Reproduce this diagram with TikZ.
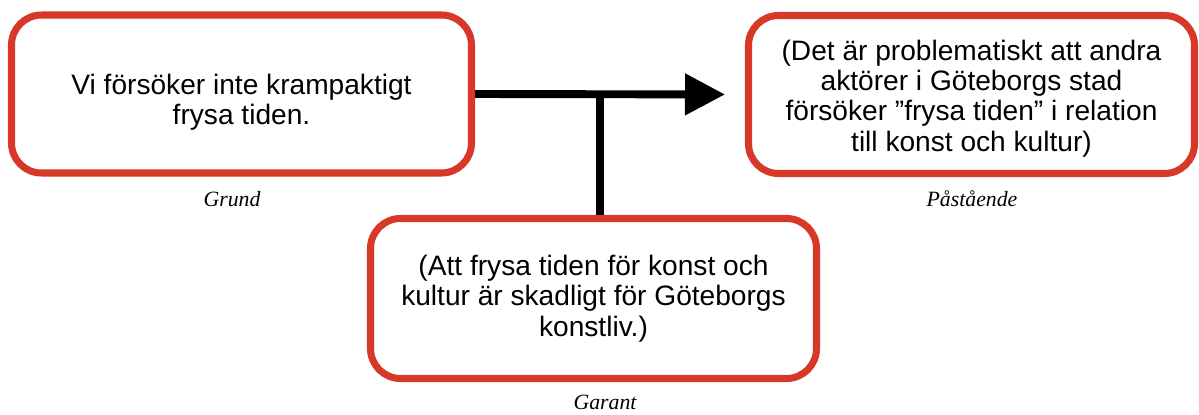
\documentclass[tikz,border=0pt]{standalone}
\usepackage{fontspec}
\setmainfont{Liberation Sans}
\newfontfamily\labelfont{Liberation Serif}
\usetikzlibrary{arrows.meta}
\definecolor{boxred}{RGB}{215,56,40}

\begin{document}
\begin{tikzpicture}
\tikzstyle{claim}=[draw=boxred, line width=4pt, rounded corners=0.6cm, inner sep=0pt]
\tikzstyle{claimtext}=[align=center, inner sep=0pt, font=\fontsize{16}{17.3}\selectfont]
\tikzstyle{role}=[font=\labelfont\itshape\fontsize{12.4}{14}\selectfont, inner sep=0pt]
\tikzstyle{link}=[line width=4.5pt]
\useasboundingbox (0,0) rectangle (23.98,8.28);

\node[claim, minimum width=9.2cm, minimum height=3.16cm] (grund) at (4.83,6.40) {};
\node[claim, minimum width=8.92cm, minimum height=3.16cm] (pastaende) at (19.43,6.39) {};
\node[claim, minimum width=8.92cm, minimum height=3.2cm] (garant) at (11.87,2.31) {};

\node[claimtext] (tgrund) at (4.83,6.24) {Vi försöker inte krampaktigt\\frysa tiden.};
\node[claimtext] (tpastaende) at (19.43,6.31)
  {(Det är problematiskt att andra\\aktörer i Göteborgs stad\\försöker ”frysa tiden” i relation\\till konst och kultur)};
\node[claimtext] (tgarant) at (11.87,2.31)
  {(Att frysa tiden för konst och\\kultur är skadligt för Göteborgs\\konstliv.)};

\node[role] (lgrund) at (4.64,4.30) {Grund};
\node[role] (lpastaende) at (19.44,4.30) {Påstående};
\node[role] (lgarant) at (12.10,0.24) {Garant};

\coordinate (tee) at (12.0,6.40);
\draw[link, -{Triangle[length=0.8cm,width=0.8cm]}, shorten >=0.4cm] (grund.east) -- (pastaende.west);
\draw[link] (tee) -- (tee |- garant.north);

\end{tikzpicture}
\end{document}
